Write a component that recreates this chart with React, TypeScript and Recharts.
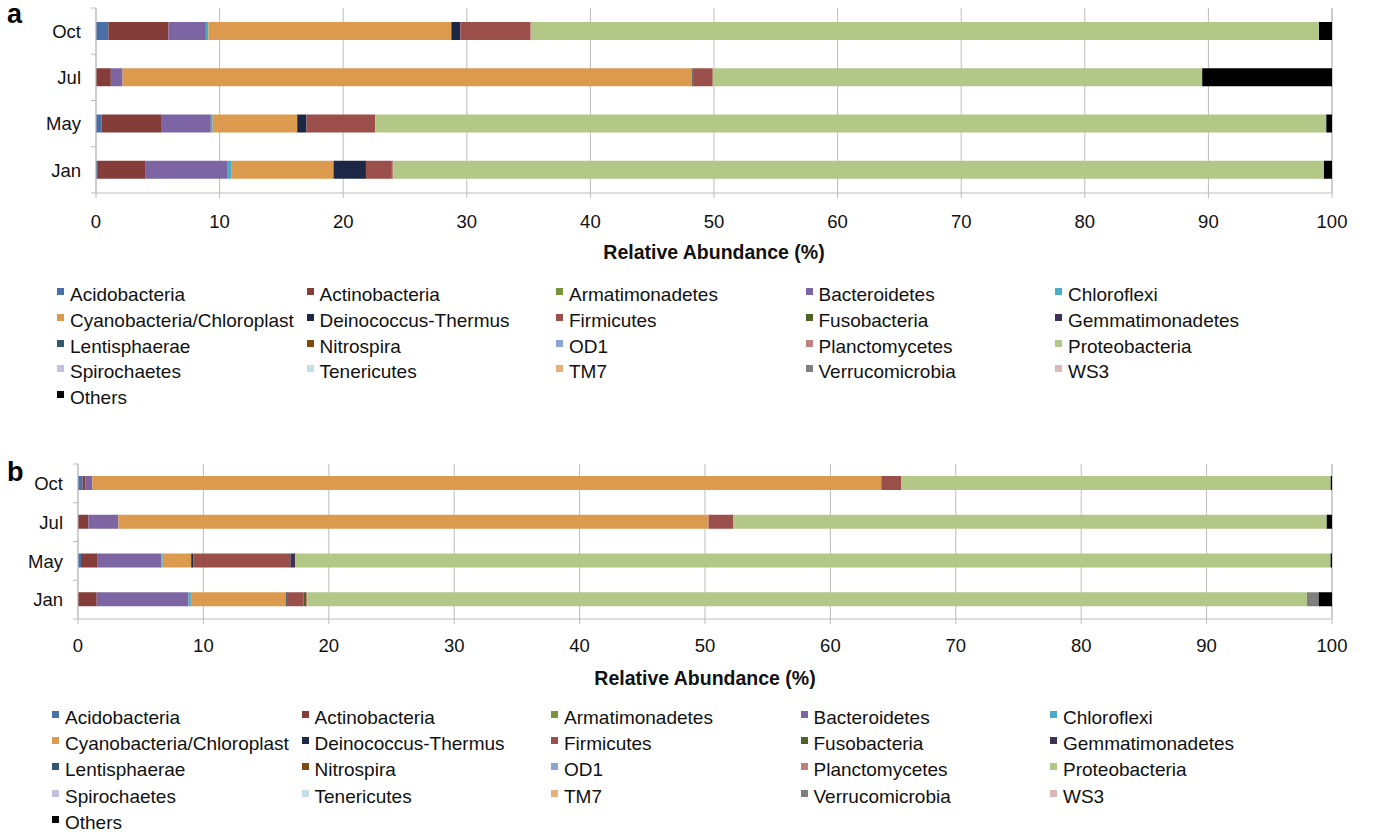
import { BarChart, Bar, XAxis, YAxis, CartesianGrid } from "recharts";

const months = ["Oct", "Jul", "May", "Jan"];

const phyla = [
  "Acidobacteria", "Actinobacteria", "Armatimonadetes", "Bacteroidetes", "Chloroflexi",
  "Cyanobacteria/Chloroplast", "Deinococcus-Thermus", "Firmicutes", "Fusobacteria", "Gemmatimonadetes",
  "Lentisphaerae", "Nitrospira", "OD1", "Planctomycetes", "Proteobacteria",
  "Spirochaetes", "Tenericutes", "TM7", "Verrucomicrobia", "WS3",
  "Others",
];

const phylumColors = [
  "#4a6fa8", "#843d39", "#77933c", "#7d64a3", "#4bacc6",
  "#db9a4e", "#1c2745", "#9b4f4a", "#4f6228", "#3f3151",
  "#31596b", "#7f4b0f", "#8da3d1", "#c0807f", "#b3c787",
  "#c7c0da", "#c5dfe8", "#e4af78", "#7f7f7f", "#d9b8b8",
  "#000000",
];

// panel a, % per phylum (same order as phyla)
const aOct = [1.0, 4.86, 0, 3.03, 0.2, 19.66, 0.73, 5.67, 0, 0, 0, 0, 0, 0.1, 63.7, 0, 0, 0, 0, 0, 1.05];
const aJul = [0, 1.2, 0, 0.95, 0, 46.1, 0.1, 1.55, 0, 0, 0, 0, 0, 0, 39.6, 0, 0, 0, 0, 0, 10.5];
const aMay = [0.46, 4.8, 0, 4.03, 0.15, 6.84, 0.75, 5.56, 0, 0, 0, 0, 0, 0, 76.95, 0, 0, 0, 0, 0, 0.46];
const aJan = [0.16, 3.81, 0, 6.69, 0.27, 8.29, 2.62, 2.1, 0, 0, 0, 0, 0, 0.1, 75.31, 0, 0, 0, 0, 0, 0.65];

// panel b
const bOct = [0.37, 0.24, 0, 0.53, 0, 62.92, 0, 1.6, 0, 0, 0, 0, 0, 0, 34.24, 0, 0, 0, 0, 0, 0.1];
const bJul = [0, 0.83, 0, 2.39, 0, 47.06, 0, 1.99, 0, 0, 0, 0, 0, 0, 47.31, 0, 0, 0, 0, 0, 0.42];
const bMay = [0.24, 1.33, 0, 5.09, 0.1, 2.27, 0.17, 7.73, 0, 0.4, 0, 0, 0, 0, 82.56, 0, 0, 0, 0, 0, 0.11];
const bJan = [0, 1.49, 0, 7.32, 0.19, 7.61, 0.11, 1.28, 0.18, 0, 0, 0, 0, 0.1, 79.72, 0, 0, 0, 0.94, 0, 1.06];

const xTicks = [0, 10, 20, 30, 40, 50, 60, 70, 80, 90, 100];

const FONT = "'Liberation Sans', Arial, Helvetica, sans-serif";
const GREY = "#bdbdbd";
const MARGIN = { top: 8, right: 42, left: 0, bottom: 7 };
const X_AXIS_H = 70;

function toRows(series: number[][]) {
  return months.map((m, i) => {
    const row: Record<string, string | number> = { month: m };
    phyla.forEach((p, j) => {
      row[p] = series[i][j];
    });
    return row;
  });
}

function MonthTick(props: any) {
  const { x, y, payload, index } = props;
  const half = payload.offset ?? 0;
  return (
    <g>
      <text x={x - 15} y={y} dy="0.36em" textAnchor="end" fontSize={18.5} fill="#111" fontFamily={FONT}>
        {payload.value}
      </text>
      <line x1={x - 5} x2={x} y1={y + half} y2={y + half} stroke={GREY} />
      {index === 0 && <line x1={x - 5} x2={x} y1={y - half} y2={y - half} stroke={GREY} />}
    </g>
  );
}

// tick label drawn a fixed distance below the plot bottom
function PercentTick(props: any) {
  const { x, payload, axisY, gap } = props;
  return (
    <text x={x} y={axisY + gap} dy="0.36em" textAnchor="middle" fontSize={18.5} fill="#111" fontFamily={FONT}>
      {payload.value}
    </text>
  );
}

function Panel({ series, height, axisWidth, barSize, tickGap }: {
  series: number[][]; height: number; axisWidth: number; barSize: number; tickGap: number;
}) {
  const data = toRows(series);
  const axisY = height - MARGIN.bottom - X_AXIS_H;
  return (
    <BarChart
      width={1374}
      height={height}
      data={data}
      layout="vertical"
      margin={MARGIN}
      barSize={barSize}
    >
      <CartesianGrid horizontal={false} stroke={GREY} />
      <XAxis
        type="number"
        domain={[0, 100]}
        ticks={xTicks}
        interval={0}
        stroke={GREY}
        tickSize={5}
        tickMargin={16}
        height={X_AXIS_H}
        tick={<PercentTick axisY={axisY} gap={tickGap} />}
        label={{
          value: "Relative Abundance (%)",
          position: "insideBottom",
          offset: 4,
          fontSize: 19.5,
          fontWeight: 700,
          fill: "#111",
          fontFamily: FONT,
        }}
      />
      <YAxis
        type="category"
        dataKey="month"
        width={axisWidth}
        stroke={GREY}
        tickLine={false}
        tickSize={0}
        tickMargin={0}
        tick={<MonthTick />}
      />
      {phyla.map((p, i) => (
        <Bar key={p} dataKey={p} stackId="s" fill={phylumColors[i]} isAnimationActive={false} />
      ))}
    </BarChart>
  );
}

function PhylaLegend({ top, left, rowGap }: { top: number; left: number; rowGap: number }) {
  return (
    <>
      {phyla.map((p, i) => {
        const col = i % 5;
        const row = Math.floor(i / 5);
        const cx = left + col * 249.5;
        const cy = top + row * rowGap;
        return (
          <div key={p} style={{ position: "absolute", left: cx, top: cy - 12, height: 24 }}>
            <div
              style={{
                position: "absolute",
                left: 0,
                top: 5,
                width: 7,
                height: 7,
                background: phylumColors[i],
              }}
            />
            <div
              style={{
                position: "absolute",
                left: 13,
                top: 0,
                lineHeight: "24px",
                fontSize: 19,
                whiteSpace: "nowrap",
                color: "#111",
                fontFamily: FONT,
              }}
            >
              {p}
            </div>
          </div>
        );
      })}
    </>
  );
}

const panelLabel = {
  position: "absolute" as const,
  left: 7,
  fontSize: 27,
  lineHeight: "27px",
  fontWeight: 700,
  fontFamily: FONT,
};

export default function App() {
  return (
    <div
      style={{
        position: "absolute",
        left: 0,
        top: 0,
        width: 1374,
        height: 836,
        background: "#fff",
        fontFamily: FONT,
      }}
    >
      <div style={{ ...panelLabel, top: 1 }}>a</div>
      <div style={{ position: "absolute", left: 0, top: 0 }}>
        <Panel series={[aOct, aJul, aMay, aJan]} height={270} axisWidth={96} barSize={18} tickGap={28.5} />
      </div>
      <PhylaLegend top={295} left={57} rowGap={25.75} />

      <div style={{ ...panelLabel, top: 459 }}>b</div>
      <div style={{ position: "absolute", left: 0, top: 456 }}>
        <Panel series={[bOct, bJul, bMay, bJan]} height={240} axisWidth={78} barSize={14} tickGap={26} />
      </div>
      <PhylaLegend top={718} left={52} rowGap={26.2} />
    </div>
  );
}
